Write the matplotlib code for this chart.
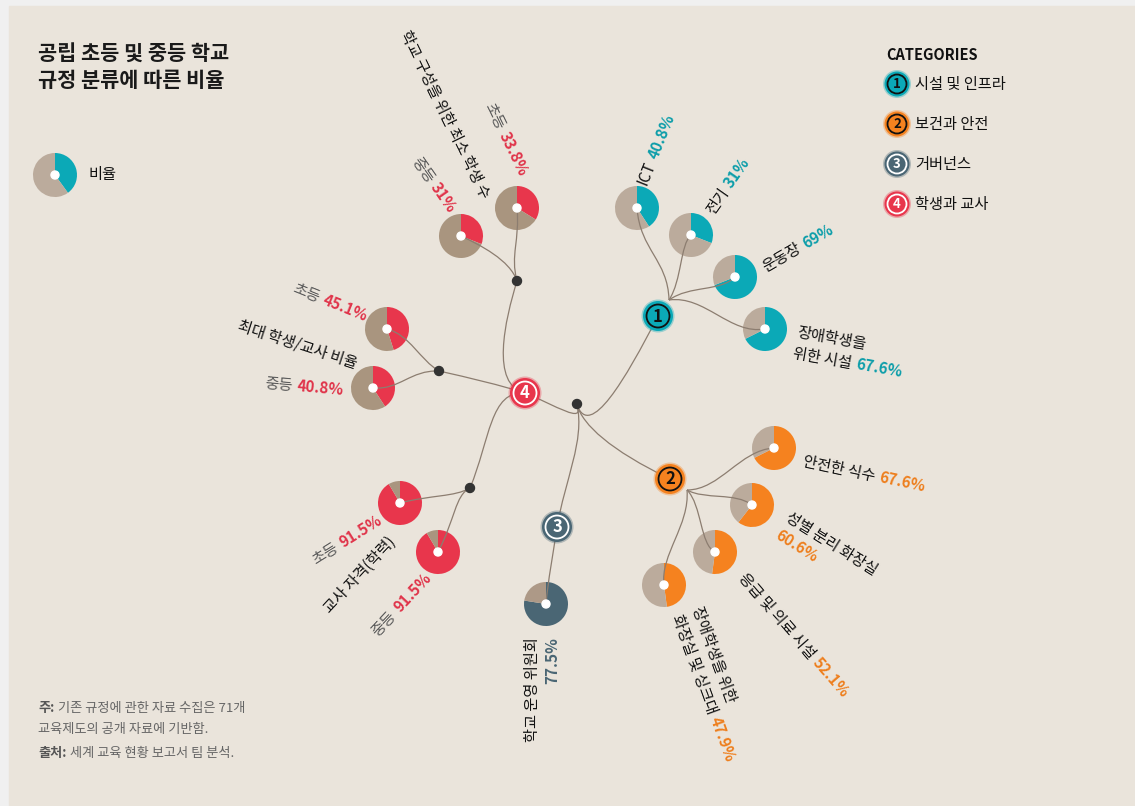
import matplotlib
matplotlib.use('Agg')
import matplotlib.pyplot as plt
from matplotlib.path import Path
from matplotlib.patches import PathPatch, Circle, Rectangle
import numpy as np

plt.rcParams['font.family'] = ['Noto Sans CJK KR', 'DejaVu Sans']

# ---- data ----
cat_names = ['시설 및 인프라', '보건과 안전', '거버넌스', '학생과 교사']
cat_colors = ['#0BA9B7', '#F5821F', '#4A6674', '#E8364C']
txt_colors = ['#0E9EAA', '#EE7F1E', '#4A6674', '#E0344A']
cat_grays = ['#BBAB9C', '#BBAB9C', '#AD9987', '#A9957F']

infra_labels = ['ICT', '전기', '운동장', '장애학생을\n위한 시설']
infra_values = [40.8, 31, 69, 67.6]
health_labels = ['안전한 식수', '성별 분리 화장실', '응급 및 의료 시설', '장애학생을 위한\n화장실 및 싱크대']
health_values = [67.6, 60.6, 52.1, 47.9]
gov_labels = ['학교 운영 위원회']
gov_values = [77.5]
staff_groups = ['학교 구성을 위한 최소 학생 수', '최대 학생/교사 비율', '교사 자격(학력)']
staff_levels = ['초등', '중등']
staff_values = [[33.8, 31], [45.1, 40.8], [91.5, 91.5]]
legend_value = 40

# ---- layout (pixel coords, y down) ----
BG = '#EAE4DB'
LINE = '#8C7D70'
W, H = 1135, 806
R = 22
LS = 11

root = (577, 405)
nodes = [(658, 316), (670, 479), (557, 527), (525, 393)]
hubs = [(669, 300), (687, 490)]

# pie centre, two bezier control points from hub, label anchor, rotation, pct on new line
infra_lay = [
    ((637, 208), (668, 260), (640, 250), (647, 186), 68, False),
    ((691, 235), (682, 280), (680, 245), (713, 215), 55, False),
    ((735, 277), (690, 285), (720, 292), (766, 272), 30, False),
    ((765, 329), (705, 295), (730, 335), (796, 337), -10, False),
]
health_lay = [
    ((774, 448), (720, 490), (740, 450), (802, 466), -12, False),
    ((752, 505), (705, 500), (735, 492), (785, 520), -32, True),
    ((715, 552), (702, 505), (700, 545), (738, 578), -49, False),
    ((664, 585), (690, 525), (660, 555), (692, 609), -70, False),
]
gov_lay = [((546, 604), (553, 555), (548, 580), (537, 637), 90)]

# junction, curve from node 4, group label anchor+rot, pies (centre, ctrl1, ctrl2, anchor, rot)
staff_lay = [
    ((517, 281), (490, 385), (505, 320), (400, 34), -64,
     [((517, 208), (510, 255), (520, 240), (484, 106), -64),
      ((461, 236), (510, 260), (480, 245), (411, 161), -55)]),
    ((439, 371), (500, 385), (470, 378), (237, 330), -18,
     [((387, 329), (420, 360), (410, 335), (292, 292), -22),
      ((373, 388), (410, 370), (400, 390), (264, 388), -5)]),
    ((470, 488), (490, 390), (490, 440), (330, 614), 47,
     [((400, 503), (455, 497), (430, 495), (316, 565), 32),
      ((438, 552), (455, 495), (455, 520), (378, 637), 47)]),
]

fig = plt.figure(figsize=(W / 100, H / 100), dpi=100)
fig.patch.set_facecolor('#F0F0F0')
ax = fig.add_axes([0, 0, 1, 1])
ax.set_xlim(0, W)
ax.set_ylim(H, 0)
ax.axis('off')
ax.add_patch(Rectangle((9, 6), W, H, color=BG, zorder=0))
renderer = fig.canvas.get_renderer()


def measure(s, size, weight):
    t = ax.text(0, 0, s, fontsize=size, fontweight=weight)
    w = t.get_window_extent(renderer=renderer).width
    t.remove()
    return w


def label(x, y, rot, lines, ha='left', size=LS, lead=21):
    th = np.radians(rot)
    d = np.array([np.cos(th), -np.sin(th)])
    n = np.array([np.sin(th), np.cos(th)])
    gap = size * 0.28 * 100 / 72
    for i, parts in enumerate(lines):
        widths = [measure(s, size, w) for s, c, w in parts]
        total = sum(widths) + gap * (len(parts) - 1)
        start = np.array([x, y], float) + n * lead * i
        if ha == 'right':
            start -= d * total
        off = 0
        for (s, c, w), wd in zip(parts, widths):
            p = start + d * off
            ax.text(p[0], p[1], s, color=c, fontsize=size, fontweight=w,
                    rotation=rot, rotation_mode='anchor', ha='left', va='baseline', zorder=6)
            off += wd + gap


def curve(p0, p1, p2, p3):
    path = Path([p0, p1, p2, p3], [Path.MOVETO, Path.CURVE4, Path.CURVE4, Path.CURVE4])
    ax.add_patch(PathPatch(path, fc='none', ec=LINE, lw=0.9, zorder=3))


def pie(c, v, ci):
    ax.pie([v, 100 - v], colors=[cat_colors[ci], cat_grays[ci]], startangle=-90,
           counterclock=True, radius=R, center=c, frame=True,
           wedgeprops=dict(linewidth=0, zorder=2))
    ax.add_patch(Circle(c, 4, color='white', zorder=5))


def node(c, num, ci, r=15, ring_r=11.5, size=12):
    dark = ci < 2
    ax.add_patch(Circle(c, r + 1.5, color=cat_colors[ci], alpha=0.35, lw=0, zorder=6))
    ax.add_patch(Circle(c, r, color=cat_colors[ci], lw=0, zorder=6))
    ax.add_patch(Circle(c, ring_r, fc='none', ec='#111111' if dark else 'white', lw=1.3, zorder=7))
    ax.text(c[0], c[1] + 0.5, str(num), ha='center', va='center', fontsize=size, fontweight='bold',
            color='#111111' if dark else 'white', zorder=8)


def jdot(c):
    ax.add_patch(Circle(c, 4.5, color='#333333', zorder=6))


# trunk
curve(nodes[0], (625, 380), (590, 440), root)
curve(root, (583, 425), (610, 450), nodes[1])
curve(root, (585, 440), (565, 480), nodes[2])
curve(nodes[3], (555, 405), (585, 425), root)
jdot((577, 404))

# category 1
for name, v, (c, c1, c2, a, rot, nl) in zip(infra_labels, infra_values, infra_lay):
    pie(c, v, 0)
    curve(hubs[0], c1, c2, c)
    rows = name.split('\n')
    lines = [[(r, '#111111', 'normal')] for r in rows]
    pct = ('%g%%' % v, txt_colors[0], 'bold')
    if nl:
        lines.append([pct])
    else:
        lines[-1].append(pct)
    label(a[0], a[1], rot, lines)
node(nodes[0], 1, 0)

# category 2
for name, v, (c, c1, c2, a, rot, nl) in zip(health_labels, health_values, health_lay):
    pie(c, v, 1)
    curve(hubs[1], c1, c2, c)
    rows = name.split('\n')
    lines = [[(r, '#111111', 'normal')] for r in rows]
    pct = ('%g%%' % v, txt_colors[1], 'bold')
    if nl:
        lines.append([pct])
    else:
        lines[-1].append(pct)
    label(a[0], a[1], rot, lines)
node(nodes[1], 2, 1)

# category 3
for name, v, (c, c1, c2, a, rot) in zip(gov_labels, gov_values, gov_lay):
    pie(c, v, 2)
    curve(nodes[2], c1, c2, c)
    label(a[0], a[1], rot, [[(name, '#111111', 'normal')],
                            [('%g%%' % v, txt_colors[2], 'bold')]], ha='right', lead=20)
node(nodes[2], 3, 2)

# category 4
for g, vals, (j, c1, c2, a, rot, pies) in zip(staff_groups, staff_values, staff_lay):
    curve(nodes[3], c1, c2, j)
    jdot(j)
    label(a[0], a[1], rot, [[(g, '#111111', 'normal')]])
    for lev, v, (c, p1, p2, pa, prot) in zip(staff_levels, vals, pies):
        pie(c, v, 3)
        curve(j, p1, p2, c)
        label(pa[0], pa[1], prot, [[(lev, '#5A5A5A', 'normal'),
                                    ('%g%%' % v, txt_colors[3], 'bold')]])
node(nodes[3], 4, 3)

# title
ax.text(38, 60, '공립 초등 및 중등 학교', fontsize=15, fontweight='bold', color='#1A1A1A')
ax.text(38, 87, '규정 분류에 따른 비율', fontsize=15, fontweight='bold', color='#1A1A1A')

# ratio legend
pie((55, 175), legend_value, 0)
ax.text(88, 174, '비율', fontsize=LS, va='center', color='#111111')

# category legend
ax.text(886, 60, 'CATEGORIES', fontsize=10.5, fontweight='bold', color='#111111')
for i, nm in enumerate(cat_names):
    cy = 84 + 40 * i
    node((897, cy), i + 1, i, r=12.5, ring_r=9.5, size=9.5)
    ax.text(915, cy, nm, fontsize=LS, va='center', color='#111111')

# notes
label(38, 712, 0, [[('주:', '#555555', 'bold'), ('기존 규정에 관한 자료 수집은 71개', '#666666', 'normal')]], size=9.5)
label(38, 733, 0, [[('교육제도의 공개 자료에 기반함.', '#666666', 'normal')]], size=9.5)
label(38, 757, 0, [[('출처:', '#555555', 'bold'), ('세계 교육 현황 보고서 팀 분석.', '#666666', 'normal')]], size=9.5)

ax.set_xlim(0, W)
ax.set_ylim(H, 0)
fig.savefig('out.png', dpi=100, facecolor=fig.get_facecolor())
